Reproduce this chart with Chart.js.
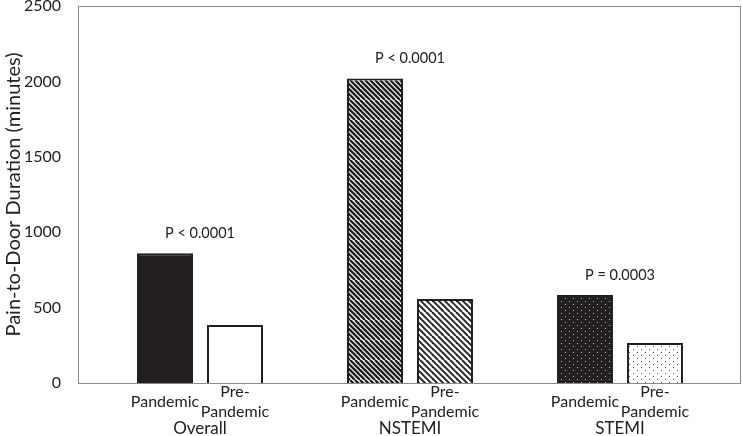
<!DOCTYPE html>
<html>
<head>
<meta charset="utf-8">
<script src="https://cdn.jsdelivr.net/npm/chart.js@4/dist/chart.umd.min.js"></script>
<style>
  body { margin: 0; background: #fff; }
  #wrap { width: 742px; height: 436px; }
</style>
</head>
<body>
<div id="wrap"><canvas id="durationChart"></canvas></div>
<script>
const categories = ['Overall', 'NSTEMI', 'STEMI'];
const periods = ['Pandemic', 'Pre-Pandemic'];
const pandemicMinutes = [860, 2020, 584];
const prePandemicMinutes = [385, 557, 265];
const pValues = ['P < 0.0001', 'P < 0.0001', 'P = 0.0003'];
const yTicks = [0, 500, 1000, 1500, 2000, 2500];

const ink = '#231f20';
const FONT = 'Lato, "Open Sans", sans-serif';

function makeTile(w, h, paint) {
    const c = document.createElement('canvas');
    c.width = w;
    c.height = h;
    paint(c.getContext('2d'));
    return c.getContext('2d').createPattern(c, 'repeat');
}

// diagonal "\" stripes, p = horizontal period
function stripes(p, lineWidth) {
    const s = p * 4;
    return makeTile(s, s, ctx => {
        ctx.fillStyle = '#fff';
        ctx.fillRect(0, 0, s, s);
        ctx.strokeStyle = ink;
        ctx.lineWidth = lineWidth;
        for (let k = -5; k <= 5; k++) {
            ctx.beginPath();
            ctx.moveTo(k * p, 0);
            ctx.lineTo(k * p + s, s);
            ctx.stroke();
        }
    });
}

function dots(bg, dot) {
    return makeTile(8, 6, ctx => {
        ctx.fillStyle = bg;
        ctx.fillRect(0, 0, 8, 6);
        ctx.fillStyle = dot;
        ctx.fillRect(1, 1, 1, 1);
        ctx.fillRect(5, 4, 1, 1);
    });
}

// one fill per group, pandemic then pre-pandemic
const pandemicFills = [ink, stripes(5, 2.4), dots(ink, '#b8b8b8')];
const preFills = ['#fff', stripes(6, 1.9), dots('#fff', '#555')];

const barX = (g, s) => g * 3 + s;

const frame = {
    id: 'frame',
    beforeDatasetsDraw(chart) {
        const {ctx, chartArea: a} = chart;
        ctx.save();
        ctx.strokeStyle = '#8a8a8a';
        ctx.lineWidth = 1;
        ctx.strokeRect(a.left + 0.5, a.top + 0.5, a.right - a.left - 1, a.bottom - a.top);
        ctx.restore();
    }
};

const pLabels = {
    id: 'pLabels',
    afterDatasetsDraw(chart) {
        const {ctx, scales} = chart;
        ctx.save();
        ctx.font = '14.5px ' + FONT;
        ctx.fillStyle = '#222';
        ctx.textAlign = 'center';
        ctx.textBaseline = 'middle';
        categories.forEach((c, i) => {
            const x = scales.x.getPixelForValue(barX(i, 0.5));
            const y = scales.y.getPixelForValue(pandemicMinutes[i]) - 20;
            ctx.fillText(pValues[i], x, y);
        });
        ctx.restore();
    }
};

new Chart(document.getElementById('durationChart'), {
    type: 'bar',
    data: {
        datasets: [{
            label: periods[0],
            data: pandemicMinutes.map((v, i) => ({x: barX(i, 0), y: v})),
            backgroundColor: pandemicFills,
            borderColor: ink,
            borderWidth: 2
        }, {
            label: periods[1],
            data: prePandemicMinutes.map((v, i) => ({x: barX(i, 1), y: v})),
            backgroundColor: preFills,
            borderColor: ink,
            borderWidth: 2
        }]
    },
    options: {
        responsive: true,
        maintainAspectRatio: false,
        animation: false,
        grouped: false,
        barPercentage: 0.8,
        categoryPercentage: 1,
        layout: { padding: { top: 6, right: 1, left: 0, bottom: 0 } },
        plugins: {
            legend: { display: false },
            tooltip: { enabled: false }
        },
        scales: {
            x: {
                type: 'linear',
                position: 'bottom',
                offset: false,
                weight: 0,
                min: -1.243,
                max: 8.229,
                grid: { display: false },
                border: { display: false },
                afterBuildTicks: scale => {
                    scale.ticks = categories.flatMap((c, g) => [{value: barX(g, 0)}, {value: barX(g, 1)}]);
                },
                afterFit: scale => {
                    scale.height = 36;
                    scale.paddingLeft = 0;
                    scale.paddingRight = 0;
                },
                ticks: {
                    autoSkip: false,
                    maxRotation: 0,
                    padding: 1,
                    crossAlign: 'center',
                    color: '#222',
                    font: { family: FONT, size: 16, lineHeight: 1.25 },
                    callback: (v, i) => {
                        const name = periods[i % 2];
                        return name.includes('-') ? [name.split('-')[0] + '-', name.split('-')[1]] : name;
                    }
                }
            },
            x2: {
                type: 'linear',
                position: 'bottom',
                offset: false,
                weight: 1,
                min: -1.243,
                max: 8.229,
                grid: { display: false },
                border: { display: false },
                afterBuildTicks: scale => {
                    scale.ticks = categories.map((c, g) => ({value: barX(g, 0.5)}));
                },
                afterFit: scale => {
                    scale.height = 17;
                    scale.paddingLeft = 0;
                    scale.paddingRight = 0;
                },
                ticks: {
                    autoSkip: false,
                    maxRotation: 0,
                    padding: -9,
                    color: '#222',
                    font: { family: FONT, size: 17, lineHeight: 1.2 },
                    callback: (v, i) => categories[i]
                }
            },
            y: {
                min: 0,
                max: 2500,
                grid: { display: false },
                border: { display: false },
                afterBuildTicks: scale => {
                    scale.ticks = yTicks.map(v => ({value: v}));
                },
                afterFit: scale => {
                    scale.width = 78;
                    scale.paddingTop = 0;
                    scale.paddingBottom = 0;
                },
                ticks: {
                    padding: 9,
                    color: '#222',
                    font: { family: FONT, size: 16 },
                    callback: v => String(v)
                },
                title: {
                    display: true,
                    text: 'Pain-to-Door Duration (minutes)',
                    color: '#222',
                    padding: { top: 2, bottom: 0 },
                    font: { family: FONT, size: 20 }
                }
            }
        }
    },
    plugins: [frame, pLabels]
});
</script>
</body>
</html>
